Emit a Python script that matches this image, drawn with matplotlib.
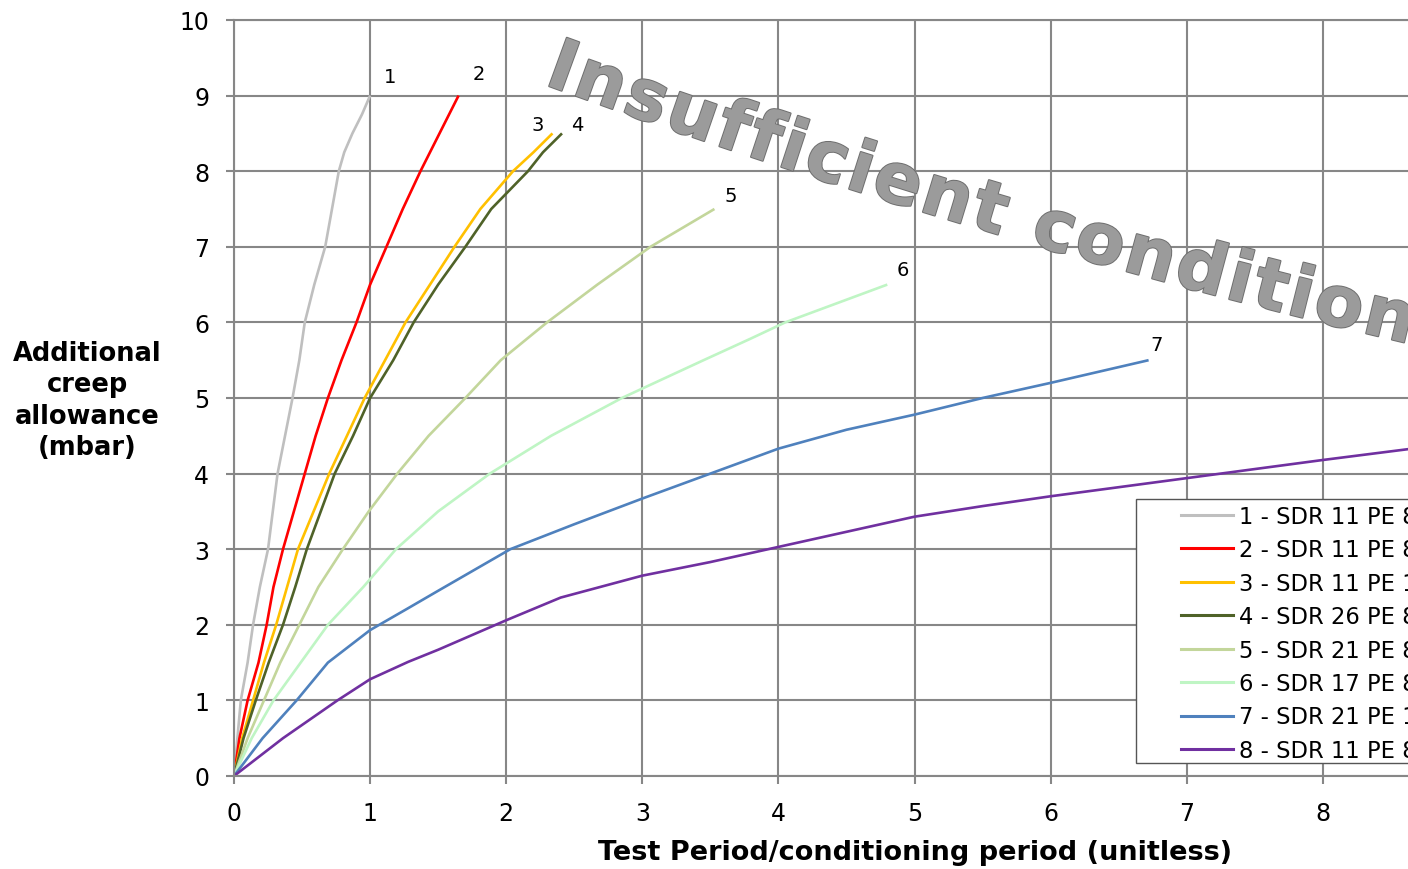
import matplotlib
matplotlib.use("Agg")
import matplotlib.pyplot as plt
import matplotlib.patheffects as pe
from matplotlib.lines import Line2D
from matplotlib.patches import Rectangle
import numpy as np

# series
x1 = [0, 0.025, 0.05, 0.10, 0.14, 0.19, 0.25, 0.32, 0.375, 0.43, 0.48, 0.52, 0.59, 0.67, 0.72, 0.77,
      0.81, 0.87, 0.94, 1.0]
y1 = [0, 0.5, 1, 1.5, 2, 2.5, 3, 4, 4.5, 5, 5.5, 6, 6.5, 7, 7.5, 8, 8.25, 8.5, 8.75, 9]
x2 = [0, 0.04, 0.10, 0.18, 0.24, 0.29, 0.36, 0.52, 0.60, 0.69, 0.79, 0.90, 1.0, 1.12, 1.24, 1.37,
      1.51, 1.65]
y2 = [0, 0.5, 1, 1.5, 2, 2.5, 3, 4, 4.5, 5, 5.5, 6, 6.5, 7, 7.5, 8, 8.5, 9]
x3 = [0, 0.06, 0.14, 0.22, 0.31, 0.39, 0.47, 0.70, 0.83, 0.96, 1.11, 1.26, 1.44, 1.62, 1.81, 2.05,
      2.20, 2.34]
y3 = [0, 0.5, 1, 1.5, 2, 2.5, 3, 4, 4.5, 5, 5.5, 6, 6.5, 7, 7.5, 8, 8.25, 8.5]
x4 = [0, 0.07, 0.16, 0.255, 0.36, 0.45, 0.535, 0.74, 0.875, 1.0, 1.17, 1.32, 1.50, 1.70, 1.89, 2.16,
      2.27, 2.41]
y4 = [0, 0.5, 1, 1.5, 2, 2.5, 3, 4, 4.5, 5, 5.5, 6, 6.5, 7, 7.5, 8, 8.25, 8.5]
x5 = [0, 0.10, 0.22, 0.34, 0.48, 0.62, 0.80, 0.99, 1.20, 1.43, 1.70, 1.96, 2.30, 2.67, 3.06, 3.53]
y5 = [0, 0.5, 1, 1.5, 2, 2.5, 3, 3.5, 4, 4.5, 5, 5.5, 6, 6.5, 7, 7.5]
x6 = [0, 0.13, 0.29, 0.49, 0.69, 0.95, 1.19, 1.50, 1.88, 2.33, 2.85, 3.45, 3.79, 4.05, 4.80]
y6 = [0, 0.5, 1, 1.5, 2, 2.5, 3, 3.5, 4, 4.5, 5, 5.5, 5.78, 6, 6.5]
x7 = [0, 0.21, 0.46, 0.69, 1.0, 1.28, 1.5, 2.03, 2.5, 3.0, 3.5, 4.0, 4.5, 5.0, 5.5, 6.0, 6.72]
y7 = [0, 0.5, 1.0, 1.5, 1.93, 2.22, 2.45, 3.0, 3.33, 3.67, 4.0, 4.33, 4.58, 4.78, 5.0, 5.2, 5.5]
x8 = [0, 0.36, 0.76, 1.0, 1.28, 1.5, 2.0, 2.4, 3.0, 3.5, 4.0, 4.5, 5.0, 5.5, 6.0, 7.0, 8.0, 8.7, 9.2]
y8 = [0, 0.5, 1.0, 1.28, 1.51, 1.67, 2.06, 2.36, 2.65, 2.83, 3.03, 3.23, 3.43, 3.57, 3.70, 3.94, 4.18,
      4.34, 4.47]

series_x = [x1, x2, x3, x4, x5, x6, x7, x8]
series_y = [y1, y2, y3, y4, y5, y6, y7, y8]
colors = ["#bfbfbf", "#ff0000", "#ffc000", "#4f6228", "#c3d69b", "#bff5c4", "#4f81bd", "#7030a0"]
labels = ["1 - SDR 11 PE 80", "2 - SDR 11 PE 80", "3 - SDR 11 PE 100", "4 - SDR 26 PE 80",
          "5 - SDR 21 PE 80", "6 - SDR 17 PE 80", "7 - SDR 21 PE 100", "8 - SDR 11 PE 80"]
end_tags = ["1", "2", "3", "4", "5", "6", "7"]
tag_offsets = [(20, 19), (20, 22), (-15, 9), (15, 9), (16, 13), (16, 15), (8, 16)]

x_ticks = list(range(0, 11))
y_ticks = list(range(0, 11))
watermark = "Insufficient conditioning"

W, H = 1408, 870
GRID = "#878787"


def main():
	fig = plt.figure(figsize=(W / 100, H / 100), dpi=100)
	fig.patch.set_facecolor("white")
	# axes run past the right edge of the picture, like the cropped original
	ax = fig.add_axes([234 / W, 1 - 777 / H, 1361 / W, 756 / H])
	ax.set_xlim(0, 10)
	ax.set_ylim(0, 10)
	ax.set_xticks(x_ticks)
	ax.set_yticks(y_ticks)
	ax.grid(True, color=GRID, linewidth=1.5)
	ax.set_axisbelow(True)
	for s in ax.spines.values():
		s.set_color(GRID)
		s.set_linewidth(1.5)
	ax.tick_params(axis="both", direction="out", length=6, width=1.5, color=GRID,
	               labelsize=17, pad=12)

	for xs, ys, c, lab in zip(series_x, series_y, colors, labels):
		ax.plot(xs, ys, color=c, linewidth=1.9, label=lab, solid_capstyle="butt",
		        solid_joinstyle="round")

	for i, tag in enumerate(end_tags):
		ax.annotate(tag, (series_x[i][-1], series_y[i][-1]), xytext=tag_offsets[i],
		            textcoords="offset pixels", ha="center", va="center", fontsize=14)

	fig.text(87 / W, 1 - 401 / H, "Additional\ncreep\nallowance\n(mbar)", ha="center",
	         va="center", fontsize=18.5, fontweight="bold", linespacing=1.27)
	fig.text(915 / W, 1 - 853 / H, "Test Period/conditioning period (unitless)",
	         ha="center", va="center", fontsize=19.5, fontweight="bold")

	# legend box, cut off at the right edge
	fig.patches.append(Rectangle((1136 / W, 1 - 764 / H), 400 / W, 264 / H,
	                             transform=fig.transFigure, facecolor="white",
	                             edgecolor="#555555", linewidth=1.0, zorder=3))
	handles = [Line2D([0], [0], color=c, linewidth=2.2) for c in colors]
	leg = fig.legend(handles, labels, loc="upper left", bbox_to_anchor=(1181 / W, 1 - 506 / H),
	                 frameon=False, fontsize=16.3, handlelength=2.3, handletextpad=0.25,
	                 labelspacing=0.46, borderpad=0, borderaxespad=0)
	leg.set_zorder(4)

	# arched watermark text, letter by letter
	renderer = fig.canvas.get_renderer()
	fsize = 51
	tracking = 2.5
	probe = fig.text(0, 0, "aa", fontsize=fsize, fontweight="bold")
	base_w = probe.get_window_extent(renderer).width
	adv = []
	for ch in watermark:
		probe.set_text("a" + ch + "a")
		adv.append(probe.get_window_extent(renderer).width - base_w + tracking)
	probe.remove()
	x0, y0 = 543.0, 85.0
	th0, th1 = np.radians(-20), np.radians(-12)
	total = sum(adv)
	s = 0.0
	px, py = x0, y0
	for ch, a in zip(watermark, adv):
		th = th0 + (th1 - th0) * s / total
		if ch != " ":
			fig.text(px / W, 1 - py / H, ch, fontsize=fsize, fontweight="bold",
			         color="#9b9b9b", rotation=np.degrees(th), rotation_mode="anchor",
			         ha="left", va="baseline", zorder=5,
			         path_effects=[pe.Stroke(linewidth=1.4, foreground="#6e6e6e"), pe.Normal()])
		px += a * np.cos(th)
		py -= a * np.sin(th)
		s += a

	fig.savefig("out.png", dpi=100)


if __name__ == "__main__":
	main()
